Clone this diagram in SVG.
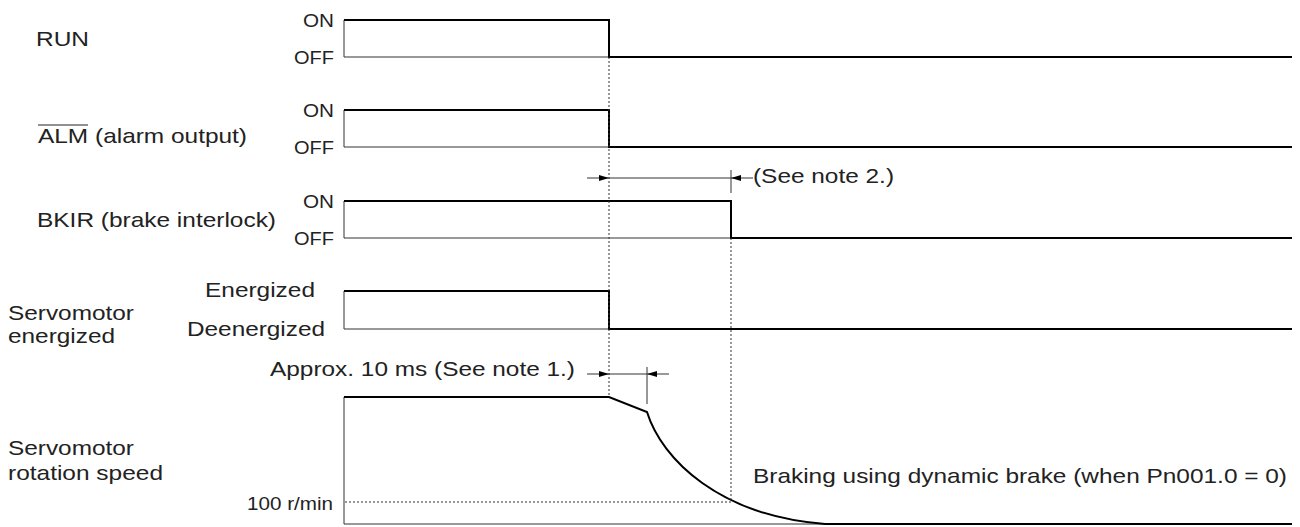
<svg xmlns="http://www.w3.org/2000/svg" width="1300" height="527" viewBox="0 0 1300 527">
<style>
.t{font-family:"Liberation Sans",Arial,Helvetica,sans-serif;font-size:21px;fill:#222}
.s{font-size:18px}
.thick{stroke:#000;stroke-width:2;fill:none}
.thin{stroke:#333;stroke-width:1;fill:none}
.dot{stroke:#333;stroke-width:1;stroke-dasharray:2 2;fill:none}
</style>
<defs>
<marker id="ar" viewBox="0 0 10 6" refX="10" refY="3" markerWidth="10" markerHeight="6" orient="auto" markerUnits="userSpaceOnUse"><path d="M0,0L10,3L0,6z" fill="#000"/></marker>
</defs>
<rect width="1300" height="527" fill="#fff"/>

<g id="run">
<text class="t" x="36" y="46" textLength="53" lengthAdjust="spacingAndGlyphs">RUN</text>
<text class="t s" x="303" y="26.5" textLength="31" lengthAdjust="spacingAndGlyphs">ON</text>
<text class="t s" x="294" y="63.5" textLength="40" lengthAdjust="spacingAndGlyphs">OFF</text>
<path class="thin" d="M344,20V57H609"/>
<path class="thick" d="M344,20H609V57H1292"/>
</g>

<g id="alm">
<text class="t" x="38" y="143" textLength="209" lengthAdjust="spacingAndGlyphs">ALM (alarm output)</text>
<line x1="38" y1="125" x2="88" y2="125" stroke="#222" stroke-width="1.2"/>
<text class="t s" x="303" y="116.5" textLength="31" lengthAdjust="spacingAndGlyphs">ON</text>
<text class="t s" x="294" y="153.5" textLength="40" lengthAdjust="spacingAndGlyphs">OFF</text>
<path class="thin" d="M344,110V147H609"/>
<path class="thick" d="M344,110H609V147H1292"/>
</g>

<g id="bkir">
<text class="t" x="37" y="227" textLength="239" lengthAdjust="spacingAndGlyphs">BKIR (brake interlock)</text>
<text class="t s" x="303" y="207.5" textLength="31" lengthAdjust="spacingAndGlyphs">ON</text>
<text class="t s" x="294" y="244.5" textLength="40" lengthAdjust="spacingAndGlyphs">OFF</text>
<path class="thin" d="M344,201V238H731"/>
<path class="thick" d="M344,201H731V238H1292"/>
</g>

<g id="energized">
<text class="t" x="8" y="320" textLength="126" lengthAdjust="spacingAndGlyphs">Servomotor</text>
<text class="t" x="8" y="343" textLength="107" lengthAdjust="spacingAndGlyphs">energized</text>
<text class="t" x="205" y="297" textLength="110" lengthAdjust="spacingAndGlyphs">Energized</text>
<text class="t" x="187" y="336" textLength="138" lengthAdjust="spacingAndGlyphs">Deenergized</text>
<path class="thin" d="M344,291V329H609"/>
<path class="thick" d="M344,291H609V329H1292"/>
</g>

<g id="speed">
<text class="t" x="8" y="455" textLength="126" lengthAdjust="spacingAndGlyphs">Servomotor</text>
<text class="t" x="8" y="480" textLength="155" lengthAdjust="spacingAndGlyphs">rotation speed</text>
<text class="t s" x="247" y="510" textLength="86" lengthAdjust="spacingAndGlyphs">100 r/min</text>
<text class="t" x="753" y="483" textLength="534" lengthAdjust="spacingAndGlyphs">Braking using dynamic brake (when Pn001.0 = 0)</text>
<text class="t" x="270" y="376" textLength="305" lengthAdjust="spacingAndGlyphs">Approx. 10 ms (See note 1.)</text>
<text class="t" x="753" y="183" textLength="141" lengthAdjust="spacingAndGlyphs">(See note 2.)</text>
<path class="thin" d="M344,397V524H830"/>
<path class="thick" d="M344,397H609L647,412C662,460 720,516 825,524H1292"/>
</g>

<g id="connectors">
<path class="dot" d="M609,57V397"/>
<path class="dot" d="M731,238V502"/>
<path class="dot" d="M345,502H731"/>
<line class="thin" x1="587" y1="178" x2="609" y2="178" marker-end="url(#ar)"/>
<line class="thin" x1="609" y1="178" x2="731" y2="178"/>
<line class="thin" x1="753" y1="178" x2="731" y2="178" marker-end="url(#ar)"/>
<line class="thin" x1="731" y1="170" x2="731" y2="193"/>
<line class="thin" x1="587" y1="374" x2="609" y2="374" marker-end="url(#ar)"/>
<line class="thin" x1="609" y1="374" x2="647" y2="374"/>
<line class="thin" x1="669" y1="374" x2="647" y2="374" marker-end="url(#ar)"/>
<line class="thin" x1="647" y1="367" x2="647" y2="404"/>
</g>
</svg>
